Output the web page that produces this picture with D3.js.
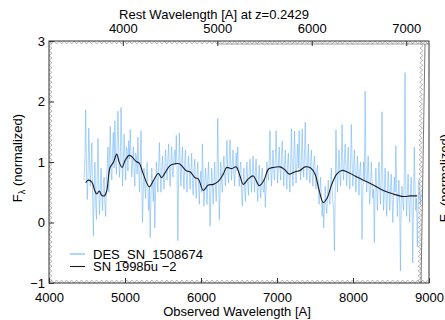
<!DOCTYPE html>
<html>
<head>
<meta charset="utf-8">
<script src="https://cdn.jsdelivr.net/npm/d3@7"></script>
<style>
  body { margin: 0; background: #fff; }
  text { font-family: "Liberation Sans", Arial, Helvetica, sans-serif; }
</style>
</head>
<body>
<div id="chart"></div>
<script>
// chart values
const redshift = 0.2429;
const obsTicks = [4000, 5000, 6000, 7000, 8000, 9000];
const restTicks = [4000, 5000, 6000, 7000];
const fluxTicks = [-1, 0, 1, 2, 3];
const legendLabels = ["DES_SN_1508674", "SN 1998bu \u22122"];

// observed spectrum, regular grid
const specStart = 4463, specStep = 10.1;
const specFlux = [
  0.70, 1.10, 1.86, 0.90, 0.38, 0.75, 1.56, 1.05, 0.60, 0.95, 1.32, 0.40, -0.22, 0.55, 1.00, 0.30, 0.05, 0.80, 1.39, 0.60,
  0.13, 0.55, 0.90, 0.45, 0.20, 0.65, 0.75, 0.30, 0.10, 0.70, 0.95, 1.25, 0.50, 1.10, 1.59, 0.85, 0.70, 1.20, 1.49, 0.90,
  1.68, 1.00, 0.80, 1.35, 1.84, 1.15, 0.75, 1.00, 1.90, 1.30, 0.60, 0.95, 1.46, 1.10, 0.70, 1.25, 1.20, 0.85, 1.35, 1.05,
  1.54, 1.10, 0.75, 1.00, 1.25, 0.85, 0.60, 1.15, 1.10, 0.80, 1.41, 1.00, 0.50, 0.90, 1.52, 0.70, 0.00, 0.55, 0.90, 0.60,
  0.40, 0.80, 1.00, 0.55, 0.20, 0.60, -0.25, 0.45, 0.90, 0.65, 0.35, 0.70, -0.09, 0.50, 1.00, 0.75, 0.50, 0.95, 1.32, 0.80,
  0.50, 0.85, 1.10, 0.75, 0.55, 0.95, 1.20, 0.85, 0.70, 1.05, 1.30, 0.90, 0.60, 1.00, 1.25, 0.80, 0.75, 1.10, 1.20, 0.95,
  1.44, 0.90, -0.30, 0.70, 1.48, 1.00, 0.60, 0.95, 1.25, 0.80, 0.55, 1.00, 1.20, 0.75, 0.50, 0.90, 1.10, 0.85, 0.55, 0.80,
  1.15, 0.70, 0.45, 0.85, 1.05, 0.65, 0.40, 0.80, 1.00, 0.60, 0.30, 0.70, 0.85, 0.50, 1.30, 0.75, 0.27, 0.55, 0.90, 0.65,
  0.30, 0.70, 1.00, 0.55, -0.06, 0.45, 0.90, 0.70, 0.30, 0.65, 1.00, 0.60, 0.35, 0.80, 1.72, 0.85, 0.05, 0.50, 1.00, 0.70,
  0.50, 0.90, 1.10, 0.80, 0.60, 1.00, 1.36, 0.85, 0.65, 1.05, 1.37, 0.95, 0.70, 1.00, 1.20, 0.80, 0.60, 0.95, 1.15, 0.85,
  1.25, 0.85, 0.60, 0.90, 1.00, 0.55, 0.27, 0.65, 0.90, 0.60, 0.35, 0.75, 1.00, 0.70, 0.45, 0.85, 1.05, 0.75, 0.50, 0.80,
  1.10, 0.80, 0.50, 0.85, 1.05, 0.65, 0.35, 0.70, 0.95, 0.60, 0.40, 0.75, 0.90, 0.55, 0.50, 0.70, 0.25, 0.60, 1.00, 0.80,
  0.70, 1.00, 1.52, 0.95, 0.60, 0.90, 1.20, 0.85, 0.70, 1.05, 1.52, 1.00, 0.65, 0.95, 1.25, 0.90, 0.70, 1.10, 1.35, 0.95,
  0.60, 0.90, 1.20, 0.80, 0.55, 0.95, 1.15, 0.75, 0.50, 1.00, 1.55, 0.90, 0.60, 1.05, 1.51, 0.95, 0.65, 1.00, 1.30, 0.90,
  1.52, 1.00, 0.70, 1.10, 1.55, 0.95, 0.75, 1.15, 1.66, 1.00, 0.70, 0.95, 1.30, 0.85, 0.65, 1.00, 1.20, 0.80, 0.60, 0.95,
  1.10, 0.80, 0.55, 0.85, 0.95, 0.60, 0.30, 0.55, 0.75, 0.40, 0.10, 0.35, -0.09, 0.25, 0.60, 0.30, 0.15, 0.45, 0.70, 0.40,
  0.30, 0.60, 0.90, 0.55, 0.35, 0.20, -0.47, 0.50, 1.53, 0.90, 0.50, 0.85, 1.20, 0.80, 0.60, 1.00, 1.62, 0.95, 0.70, 1.05,
  1.30, 0.90, 0.60, 0.95, 1.25, 0.80, 0.55, 0.95, 1.62, 1.00, 0.60, 0.90, 1.20, 0.85, 0.50, 0.80, 1.10, 0.75, 0.45, 0.85,
  1.00, 0.60, -0.28, 0.45, 1.00, 0.70, 2.17, 0.85, 0.50, 0.80, 1.10, 0.65, 0.30, 0.60, 1.00, 0.70, 0.40, 0.55, -0.33, 0.50,
  0.90, 0.55, 0.20, 0.60, 1.00, 0.65, 0.30, 0.75, 1.83, 0.70, 0.20, 0.50, 0.90, 0.55, 0.10, 0.45, 0.85, 0.60, 0.20, 0.55,
  0.80, 0.45, 0.00, 0.40, 0.75, 0.50, 1.27, 0.60, 0.10, 0.45, 0.70, 0.30, -0.80, 0.35, 0.60, 0.40, 0.20, 0.70, 2.48, 0.55,
  0.10, 0.50, 0.80, 0.40, 0.00, 0.45, 0.75, 0.35, -0.67, 0.30, 1.25, 0.60, 0.20, 0.40, -0.40, 0.25, 0.70, 0.45, 0.30, 0.50
];

// template spectrum
const tmplWave = [
  4483, 4517, 4562, 4605, 4628, 4662, 4693, 4728, 4759, 4803,
  4846, 4891, 4925, 4961, 5000, 5053, 5088, 5145, 5188, 5241,
  5320, 5372, 5438, 5483, 5526, 5592, 5658, 5714, 5759, 5812,
  5855, 5921, 5964, 6030, 6096, 6162, 6228, 6293, 6338, 6404,
  6461, 6513, 6557, 6622, 6688, 6767, 6829, 6886, 6951, 7040,
  7105, 7162, 7237, 7303, 7368, 7443, 7500, 7557, 7609, 7662,
  7720, 7786, 7851, 7917, 8026, 8136, 8267, 8399, 8530, 8662,
  8750, 8846
];
const tmplFlux = [
  0.66, 0.70, 0.67, 0.52, 0.47, 0.52, 0.45, 0.44, 0.52, 0.91,
  0.99, 1.13, 0.99, 0.91, 1.02, 1.11, 1.09, 1.01, 0.98, 0.80,
  0.59, 0.69, 0.81, 0.74, 0.82, 0.94, 0.97, 0.97, 0.92, 0.85,
  0.84, 0.74, 0.72, 0.53, 0.62, 0.63, 0.68, 0.80, 0.91, 0.89,
  0.92, 0.77, 0.63, 0.72, 0.77, 0.61, 0.70, 0.88, 0.91, 0.92,
  0.87, 0.80, 0.84, 0.86, 0.92, 0.90, 0.80, 0.52, 0.33, 0.41,
  0.63, 0.80, 0.86, 0.84, 0.77, 0.70, 0.62, 0.53, 0.47, 0.43,
  0.44, 0.44
];

const margin = {top: 41, right: 16, bottom: 37, left: 49};
const W = 445 - margin.left - margin.right;
const H = 320 - margin.top - margin.bottom;

const svg = d3.select("#chart").append("svg")
  .attr("width", 445).attr("height", 320);
const g = svg.append("g")
  .attr("transform", "translate(" + margin.left + "," + margin.top + ")");

const x = d3.scaleLinear().domain([4000, 9000]).range([0, W]);
const xRest = d3.scaleLinear().domain([4000 / (1 + redshift), 9000 / (1 + redshift)]).range([0, W]);
const y = d3.scaleLinear().domain([-1, 3]).range([H, 0]);

g.append("clipPath").attr("id", "plotclip")
  .append("rect").attr("width", W).attr("height", H);

// spectrum
const spec = specFlux.map((f, i) => [specStart + i * specStep, f]);
g.append("path")
  .datum(spec)
  .attr("clip-path", "url(#plotclip)")
  .attr("fill", "none")
  .attr("stroke", "#6ab2f6")
  .attr("stroke-opacity", 0.7)
  .attr("stroke-width", 0.8)
  .attr("d", d3.line().x(d => x(d[0])).y(d => y(d[1])));

// template
g.append("path")
  .datum(tmplWave.map((w, i) => [w, tmplFlux[i]]))
  .attr("fill", "none")
  .attr("stroke", "#1a1a1a")
  .attr("stroke-width", 1.1)
  .attr("d", d3.line().curve(d3.curveCatmullRom).x(d => x(d[0])).y(d => y(d[1])));

// zigzag minor ticks, like the reference frame
const zig = d3.line();
const zigStyle = s => s.attr("fill", "none").attr("stroke", "#888").attr("stroke-width", 0.6);
const xMinor = d3.range(4000, 9001, 33);
const yMinor = d3.range(-1, 3.001, 0.04);
g.append("path").call(zigStyle).attr("d", zig(xMinor.map((w, i) => [x(w), H - (i % 2 ? 3 : 0)])));
g.append("path").call(zigStyle).attr("d", zig(xMinor.map((w, i) => [x(w), (i % 2 ? 3 : 0)])));
g.append("path").call(zigStyle).attr("d", zig(yMinor.map((f, i) => [(i % 2 ? 3 : 0), y(f)])));
g.append("path").call(zigStyle).attr("d", zig(yMinor.map((f, i) => [W - 6 - (i % 2 ? 3 : 0) + (y(f) / H) * -2, y(f)])));

// offset second frame on the right
g.append("line").attr("x1", 168).attr("x2", W).attr("y1", 3).attr("y2", 3)
  .attr("stroke", "#888").attr("stroke-width", 0.8);
g.append("line").attr("x1", W - 4).attr("x2", W - 8).attr("y1", 3).attr("y2", H)
  .attr("stroke", "#555").attr("stroke-width", 0.8);

// frame
g.append("rect").attr("width", W).attr("height", H)
  .attr("fill", "none").attr("stroke", "#333").attr("stroke-width", 1);

// axes
const fontSize = "13px";
const styleAxis = sel => {
  sel.select(".domain").remove();
  sel.selectAll(".tick line").attr("stroke", "#333");
  sel.selectAll(".tick text").attr("fill", "#000").style("font-size", fontSize)
    .style("font-family", '"Liberation Sans", Arial, sans-serif');
};

g.append("g").attr("transform", "translate(0," + H + ")")
  .call(d3.axisBottom(x).tickValues(obsTicks).tickSize(-5).tickPadding(10).tickFormat(d3.format("d")))
  .call(styleAxis);

g.append("g")
  .call(d3.axisTop(xRest).tickValues(restTicks).tickSize(-5).tickPadding(8).tickFormat(d3.format("d")))
  .call(styleAxis);

g.append("g")
  .call(d3.axisLeft(y).tickValues(fluxTicks).tickSize(-5).tickPadding(4).tickFormat(d3.format("d")))
  .call(styleAxis);

// axis titles
svg.append("text")
  .attr("x", margin.left + W / 2 - 2).attr("y", 316)
  .attr("text-anchor", "middle").style("font-size", fontSize)
  .text("Observed Wavelength [A]");

svg.append("text")
  .attr("x", 214).attr("y", 19)
  .attr("text-anchor", "middle").style("font-size", fontSize)
  .text("Rest Wavelength [A] at z=" + redshift);

function fluxLabel(sel) {
  sel.append("tspan").text("F");
  sel.append("tspan").attr("dy", 3).style("font-size", "9px").text("\u03bb");
  sel.append("tspan").attr("dy", -3).text(" (normalized)");
}

svg.append("text")
  .attr("transform", "translate(22,158) rotate(-90)")
  .attr("text-anchor", "middle").style("font-size", fontSize)
  .call(fluxLabel);

// neighbouring panel's label, cut by the window edge
svg.append("text")
  .attr("transform", "translate(449,178) rotate(-90)")
  .attr("text-anchor", "middle").style("font-size", fontSize)
  .call(fluxLabel);

// legend
const legendColors = ["#6ab2f6", "#1a1a1a"];
const legend = svg.append("g").attr("transform", "translate(70,254)");
legendLabels.forEach((lab, i) => {
  legend.append("line")
    .attr("x1", 0).attr("x2", 15).attr("y1", i * 12.5).attr("y2", i * 12.5)
    .attr("stroke", legendColors[i]).attr("stroke-width", 1.1);
  legend.append("text")
    .attr("x", 23).attr("y", i * 12.5 + 4.5)
    .style("font-size", fontSize)
    .text(lab);
});
</script>
</body>
</html>
